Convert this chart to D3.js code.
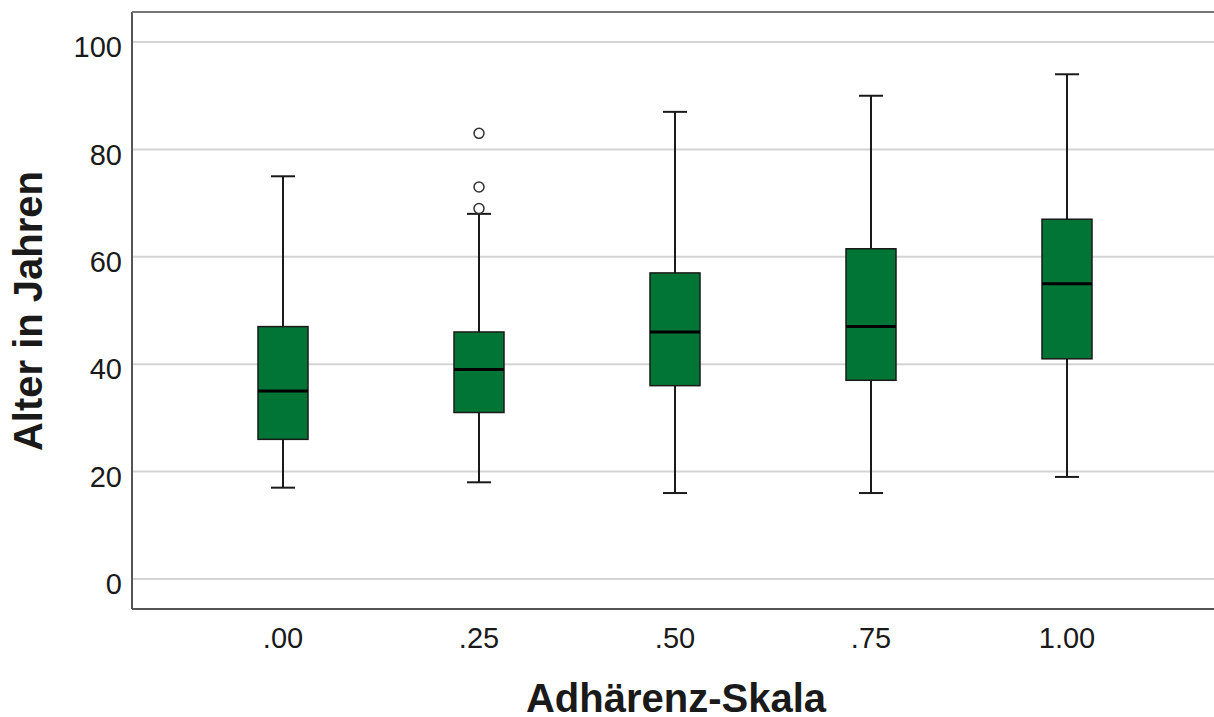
<!DOCTYPE html>
<html>
<head>
<meta charset="utf-8">
<script src="https://cdn.jsdelivr.net/npm/d3@7"></script>
<style>
  body { margin: 0; background: #fff; }
  svg { display: block; font-family: "Liberation Sans", Arial, sans-serif; }
  .grid line { stroke: #d4d4d4; stroke-width: 2; }
  .tick-label { font-size: 29px; fill: #1a1a1a; }
  .axis-title { font-size: 40px; font-weight: bold; fill: #1a1a1a; }
</style>
</head>
<body>
<div id="wrapper"></div>
<script>
// 1. Data
const categories = [".00", ".25", ".50", ".75", "1.00"]
const whiskerLow  = [17, 18, 16, 16, 19]
const q1          = [26, 31, 36, 37, 41]
const medians     = [35, 39, 46, 47, 55]
const q3          = [47, 46, 57, 61.5, 67]
const whiskerHigh = [75, 68, 87, 90, 94]
const outliers = [
  { cat: ".25", value: 83 },
  { cat: ".25", value: 73 },
  { cat: ".25", value: 69 },
]
const yTicks = [0, 20, 40, 60, 80, 100]

const dataset = categories.map((c, i) => ({
  cat: c,
  low: whiskerLow[i],
  q1: q1[i],
  median: medians[i],
  q3: q3[i],
  high: whiskerHigh[i],
}))

// 2. Dimensions
let dimensions = {
  width: 1214,
  height: 717,
  margin: { top: 12, right: 0, bottom: 108, left: 132 },
}
dimensions.boundedWidth = dimensions.width - dimensions.margin.left - dimensions.margin.right
dimensions.boundedHeight = dimensions.height - dimensions.margin.top - dimensions.margin.bottom

// 3. Canvas
const wrapper = d3.select("#wrapper")
  .append("svg")
  .attr("width", dimensions.width)
  .attr("height", dimensions.height)

const bounds = wrapper.append("g")
  .attr("transform", `translate(${dimensions.margin.left},${dimensions.margin.top})`)

// 4. Scales
const yScale = d3.scaleLinear()
  .domain([-5.6, 105.6])
  .range([dimensions.boundedHeight, 0])

const xScale = d3.scaleBand()
  .domain(categories)
  .range([53, 1033])

const boxWidth = 50
const capWidth = 24
const cx = d => xScale(d) + xScale.bandwidth() / 2

// 5. Grid
bounds.append("g").attr("class", "grid")
  .selectAll("line")
  .data(yTicks)
  .join("line")
  .attr("x1", 0)
  .attr("x2", dimensions.boundedWidth)
  .attr("y1", d => yScale(d))
  .attr("y2", d => yScale(d))

// 6. Boxes
const boxes = bounds.selectAll(".box")
  .data(dataset)
  .join("g")
  .attr("class", "box")

boxes.append("line")
  .attr("x1", d => cx(d.cat)).attr("x2", d => cx(d.cat))
  .attr("y1", d => yScale(d.high)).attr("y2", d => yScale(d.q3))
  .attr("stroke", "#1a1a1a").attr("stroke-width", 2)
boxes.append("line")
  .attr("x1", d => cx(d.cat)).attr("x2", d => cx(d.cat))
  .attr("y1", d => yScale(d.q1)).attr("y2", d => yScale(d.low))
  .attr("stroke", "#1a1a1a").attr("stroke-width", 2)
boxes.append("line")
  .attr("x1", d => cx(d.cat) - capWidth / 2).attr("x2", d => cx(d.cat) + capWidth / 2)
  .attr("y1", d => yScale(d.high)).attr("y2", d => yScale(d.high))
  .attr("stroke", "#1a1a1a").attr("stroke-width", 2)
boxes.append("line")
  .attr("x1", d => cx(d.cat) - capWidth / 2).attr("x2", d => cx(d.cat) + capWidth / 2)
  .attr("y1", d => yScale(d.low)).attr("y2", d => yScale(d.low))
  .attr("stroke", "#1a1a1a").attr("stroke-width", 2)
boxes.append("rect")
  .attr("x", d => cx(d.cat) - boxWidth / 2)
  .attr("width", boxWidth)
  .attr("y", d => yScale(d.q3))
  .attr("height", d => yScale(d.q1) - yScale(d.q3))
  .attr("fill", "#007535")
  .attr("stroke", "#1a1a1a")
  .attr("stroke-width", 1.5)
boxes.append("line")
  .attr("x1", d => cx(d.cat) - boxWidth / 2).attr("x2", d => cx(d.cat) + boxWidth / 2)
  .attr("y1", d => yScale(d.median)).attr("y2", d => yScale(d.median))
  .attr("stroke", "#000").attr("stroke-width", 3)

bounds.selectAll(".outlier")
  .data(outliers)
  .join("circle")
  .attr("class", "outlier")
  .attr("cx", d => cx(d.cat))
  .attr("cy", d => yScale(d.value))
  .attr("r", 5)
  .attr("fill", "#fff")
  .attr("stroke", "#333")
  .attr("stroke-width", 1.5)

// 7. Frame (left + bottom + top)
const frame = bounds.append("g")
frame.append("line")
  .attr("x1", 0).attr("x2", 0).attr("y1", 0).attr("y2", dimensions.boundedHeight)
  .attr("stroke", "#555").attr("stroke-width", 2)
frame.append("line")
  .attr("x1", 0).attr("x2", dimensions.boundedWidth)
  .attr("y1", dimensions.boundedHeight).attr("y2", dimensions.boundedHeight)
  .attr("stroke", "#555").attr("stroke-width", 2)
frame.append("line")
  .attr("x1", 0).attr("x2", dimensions.boundedWidth).attr("y1", 0).attr("y2", 0)
  .attr("stroke", "#777").attr("stroke-width", 2)

// 8. Tick labels
bounds.selectAll(".y-label")
  .data(yTicks)
  .join("text")
  .attr("class", "tick-label")
  .attr("x", -10)
  .attr("y", d => yScale(d) + 5)
  .attr("dy", "0.35em")
  .attr("text-anchor", "end")
  .text(d => d)

bounds.selectAll(".x-label")
  .data(categories)
  .join("text")
  .attr("class", "tick-label")
  .attr("x", d => cx(d))
  .attr("y", dimensions.boundedHeight + 39)
  .attr("text-anchor", "middle")
  .text(d => d)

// axis titles
wrapper.append("text")
  .attr("class", "axis-title")
  .attr("x", 676)
  .attr("y", 712)
  .attr("text-anchor", "middle")
  .text("Adhärenz-Skala")

wrapper.append("text")
  .attr("class", "axis-title")
  .attr("transform", "translate(42,311) rotate(-90)")
  .attr("text-anchor", "middle")
  .text("Alter in Jahren")
</script>
</body>
</html>
